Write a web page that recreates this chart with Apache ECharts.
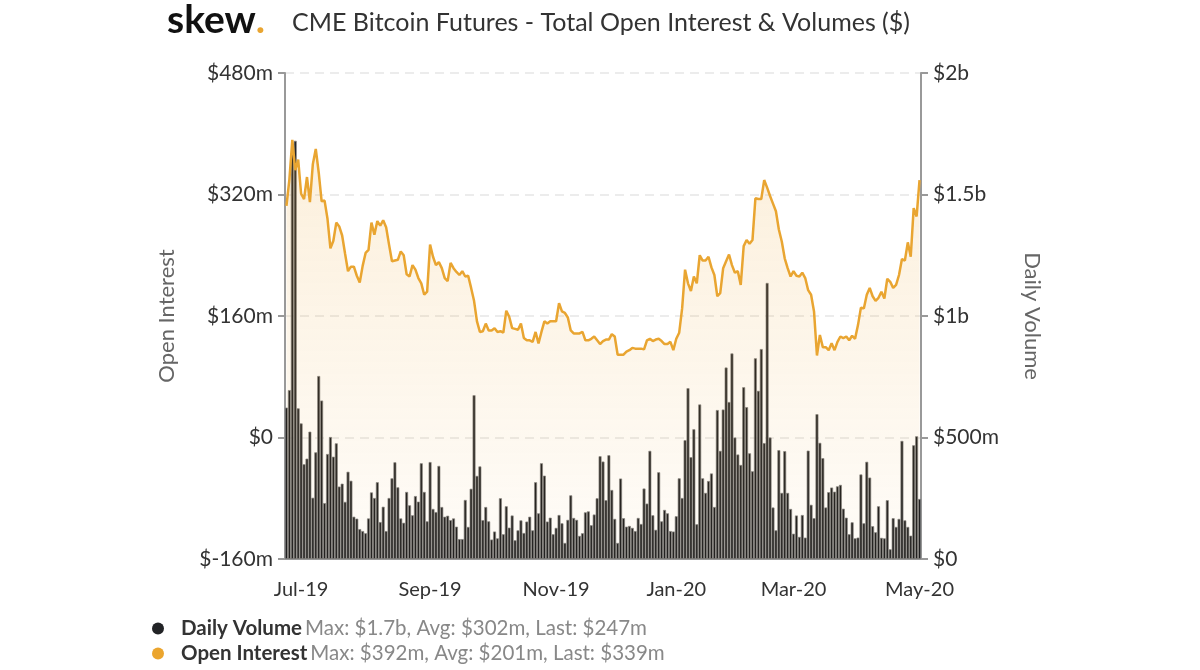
<!DOCTYPE html>
<html>
<head>
<meta charset="utf-8">
<title>CME Bitcoin Futures - Total Open Interest & Volumes ($)</title>
<script src="https://cdn.jsdelivr.net/npm/echarts@6/dist/echarts.min.js"></script>
<style>
  html, body { margin: 0; padding: 0; background: #fff; }
  #chart { width: 1200px; height: 670px; }
</style>
</head>
<body>
<div id="chart"></div>
<script>
// trading days (weekdays, CME holidays skipped)
const firstDay = '2019-06-24';
const lastDay = '2020-05-01';
const holidays = ['2019-07-04', '2019-09-02', '2019-11-28', '2019-12-25',
  '2020-01-01', '2020-01-20', '2020-02-17', '2020-04-10'];

// x axis tick labels and the trading day they sit on
const tickDates = ['2019-07-01', '2019-09-03', '2019-11-01', '2020-01-02', '2020-03-02', '2020-05-01'];
const tickLabels = ['Jul-19', 'Sep-19', 'Nov-19', 'Jan-20', 'Mar-20', 'May-20'];

// daily volume, $m
const dailyVolume = [
  623, 695, 1672, 1721, 620, 558, 390, 413, 524, 252,
  439, 753, 652, 230, 432, 502, 421, 476, 298, 310,
  235, 359, 322, 174, 166, 123, 115, 106, 167, 274,
  251, 316, 152, 215, 115, 251, 332, 398, 295, 167,
  149, 276, 221, 180, 259, 236, 394, 276, 155, 399,
  206, 193, 383, 214, 174, 178, 160, 167, 133, 82,
  82, 243, 132, 289, 674, 342, 381, 160, 214, 155,
  80, 113, 85, 250, 102, 217, 129, 179, 77, 118,
  159, 107, 154, 174, 118, 316, 188, 394, 343, 154,
  170, 102, 128, 181, 147, 66, 161, 262, 169, 161,
  95, 106, 192, 196, 139, 183, 250, 423, 401, 242,
  427, 284, 165, 66, 331, 168, 133, 136, 128, 115,
  169, 144, 290, 228, 445, 180, 120, 357, 155, 202,
  188, 115, 113, 176, 332, 251, 489, 703, 419, 534,
  143, 636, 332, 272, 321, 352, 214, 613, 445, 615,
  788, 646, 846, 500, 430, 387, 707, 625, 435, 361,
  826, 692, 864, 477, 1136, 500, 212, 118, 448, 272,
  444, 272, 206, 104, 179, 91, 181, 88, 446, 223,
  168, 596, 478, 415, 212, 275, 294, 277, 299, 305,
  207, 170, 102, 151, 85, 88, 348, 147, 400, 335,
  135, 110, 217, 87, 85, 242, 40, 168, 132, 165,
  486, 159, 132, 96, 468, 505, 247
];

// total open interest, $m
const openInterest = [
  305, 340, 392, 352, 366, 321, 314, 343, 310, 360,
  380, 349, 311, 312, 288, 249, 259, 283, 278, 266,
  242, 219, 225, 225, 213, 204, 226, 243, 247, 283,
  267, 285, 279, 286, 277, 254, 232, 233, 234, 245,
  240, 215, 212, 227, 221, 210, 203, 188, 192, 254,
  238, 227, 231, 223, 210, 206, 230, 223, 218, 214,
  219, 212, 213, 197, 180, 153, 139, 140, 150, 141,
  141, 144, 139, 140, 138, 167, 159, 144, 143, 142,
  150, 131, 128, 128, 126, 139, 124, 139, 153, 150,
  153, 153, 153, 177, 166, 164, 158, 141, 137, 137,
  137, 139, 128, 128, 130, 133, 128, 123, 127, 129,
  129, 136, 133, 109, 109, 109, 113, 115, 118, 117,
  117, 117, 116, 128, 130, 127, 129, 130, 127, 123,
  123, 126, 115, 130, 138, 170, 221, 203, 193, 212,
  203, 240, 233, 233, 238, 224, 214, 186, 190, 223,
  232, 241, 227, 217, 219, 201, 252, 260, 255, 260,
  315, 314, 314, 339, 329, 318, 308, 298, 274, 258,
  236, 223, 212, 219, 213, 212, 217, 210, 194, 188,
  166, 108, 135, 119, 119, 115, 124, 115, 126, 133,
  131, 133, 128, 134, 130, 148, 171, 170, 188, 197,
  186, 180, 184, 192, 183, 209, 205, 197, 201, 214,
  235, 233, 257, 238, 302, 291, 339
];

const seriesNames = ['Daily Volume', 'Open Interest'];
const seriesStats = {
  'Daily Volume': 'Max: $1.7b, Avg: $302m, Last: $247m',
  'Open Interest': 'Max: $392m, Avg: $201m, Last: $339m'
};

function tradingDays(from, to, skip) {
  const out = [];
  const d = new Date(from + 'T00:00:00Z');
  const end = new Date(to + 'T00:00:00Z');
  while (d <= end) {
    const s = d.toISOString().slice(0, 10);
    const wd = d.getUTCDay();
    if (wd !== 0 && wd !== 6 && skip.indexOf(s) < 0) out.push(s);
    d.setUTCDate(d.getUTCDate() + 1);
  }
  return out;
}

const dates = tradingDays(firstDay, lastDay, holidays);
const font = 'Lato, "Open Sans", sans-serif';
const isTick = (idx) => tickDates.indexOf(dates[idx]) >= 0;

const chart = echarts.init(document.getElementById('chart'));
chart.setOption({
  animation: false,
  textStyle: { fontFamily: font },
  title: [
    {
      text: '{s|skew}{d|.}',
      left: 167,
      top: 1,
      padding: 0,
      textStyle: {
        rich: {
          s: { fontFamily: font, fontSize: 39, fontWeight: 'bold', color: '#111' },
          d: { fontFamily: font, fontSize: 39, fontWeight: 'bold', color: '#e9a531' }
        }
      }
    },
    {
      text: 'CME Bitcoin Futures - Total Open Interest & Volumes ($)',
      left: 292,
      top: 10,
      padding: 0,
      textStyle: { fontFamily: font, fontSize: 25, fontWeight: 'normal', color: '#333' }
    }
  ],
  legend: {
    orient: 'vertical',
    left: 152,
    top: 618,
    padding: 0,
    itemWidth: 12,
    itemHeight: 12,
    itemGap: 4,
    icon: 'circle',
    data: [
      { name: seriesNames[0], itemStyle: { color: '#222326', borderWidth: 0 } },
      { name: seriesNames[1], itemStyle: { color: '#eba52e', borderWidth: 0 } }
    ],
    formatter: (name) => '{n|' + name + '} {s|' + seriesStats[name] + '}',
    textStyle: {
      lineHeight: 21,
      rich: {
        n: { fontFamily: font, fontSize: 20.5, lineHeight: 21, fontWeight: 'bold', color: '#333', padding: [0, 0, 0, 12] },
        s: { fontFamily: font, fontSize: 20.5, lineHeight: 21, color: '#888' }
      }
    }
  },
  grid: { left: 285, right: 279, top: 73, bottom: 111 },
  xAxis: {
    type: 'category',
    data: dates,
    axisLine: { onZero: false, lineStyle: { color: '#999', width: 2 } },
    axisTick: { interval: (idx) => isTick(idx), alignWithLabel: true, length: 8, lineStyle: { color: '#999', width: 2 } },
    axisLabel: {
      interval: (idx) => isTick(idx),
      formatter: (val) => tickLabels[tickDates.indexOf(val)],
      margin: 21,
      fontSize: 20,
      color: '#333'
    }
  },
  yAxis: [
    {
      type: 'value',
      name: 'Open Interest',
      nameLocation: 'middle',
      nameRotate: 90,
      nameGap: 107,
      nameTextStyle: { fontSize: 22, color: '#666' },
      min: -160,
      max: 480,
      interval: 160,
      axisLine: { show: true, lineStyle: { color: '#999', width: 2 } },
      axisTick: { show: true, length: 7, lineStyle: { color: '#999', width: 2 } },
      axisLabel: {
        formatter: (v) => v === 0 ? '$0' : '$' + v + 'm',
        fontSize: 21,
        color: '#333',
        margin: 12
      },
      splitLine: { lineStyle: { color: '#e6e6e6', type: [9, 6], width: 1.5 } }
    },
    {
      type: 'value',
      name: 'Daily Volume',
      nameLocation: 'middle',
      nameRotate: -90,
      nameGap: 100,
      nameTextStyle: { fontSize: 22, color: '#666' },
      min: 0,
      max: 2000,
      interval: 500,
      axisLine: { show: true, lineStyle: { color: '#999', width: 2 } },
      axisTick: { show: true, length: 7, lineStyle: { color: '#999', width: 2 } },
      axisLabel: {
        formatter: (v) => v === 0 ? '$0' : (v >= 1000 ? '$' + (v / 1000) + 'b' : '$' + v + 'm'),
        fontSize: 21,
        color: '#333',
        margin: 12
      },
      splitLine: { show: false }
    }
  ],
  series: [
    {
      name: 'Open Interest',
      type: 'line',
      yAxisIndex: 0,
      data: openInterest,
      showSymbol: false,
      itemStyle: { color: '#eba52e' },
      lineStyle: { color: '#e9a531', width: 2.5 },
      areaStyle: {
        origin: 'start',
        color: new echarts.graphic.LinearGradient(0, 0, 0, 1, [
          { offset: 0, color: 'rgba(238, 170, 60, 0.26)' },
          { offset: 1, color: 'rgba(238, 170, 60, 0.05)' }
        ])
      }
    },
    {
      name: 'Daily Volume',
      type: 'bar',
      yAxisIndex: 1,
      data: dailyVolume,
      barCategoryGap: '0%',
      itemStyle: { color: '#1b1c1f', borderColor: '#858585', borderWidth: 0.7 }
    }
  ]
});
</script>
</body>
</html>
